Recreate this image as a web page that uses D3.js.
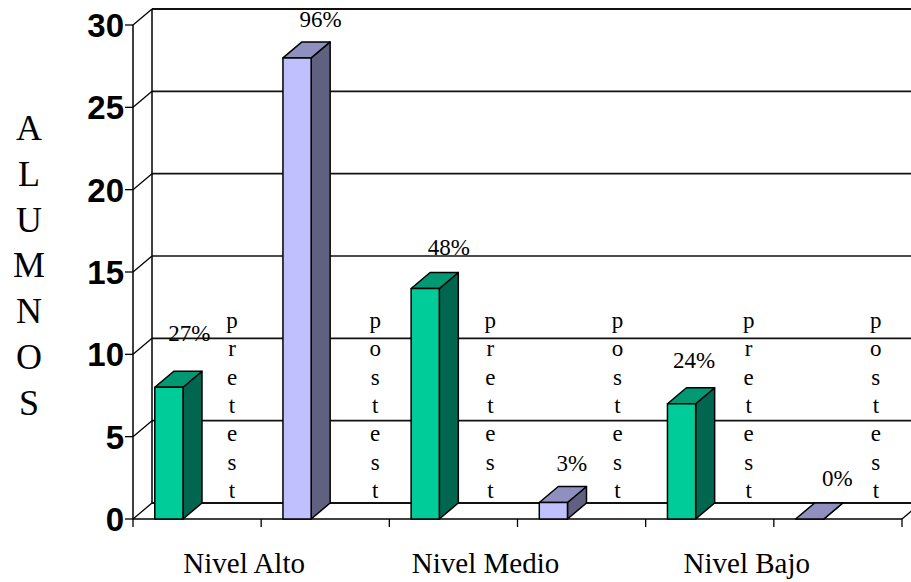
<!DOCTYPE html>
<html>
<head>
<meta charset="utf-8">
<script src="https://cdn.jsdelivr.net/npm/d3@7"></script>
<style>
  html, body { margin: 0; padding: 0; background: #fff; overflow: hidden; }
  svg { display: block; }
  .serif { font-family: "Liberation Serif", "Times New Roman", Times, "DejaVu Serif", serif; }
  .sans { font-family: "Liberation Sans", Arial, Helvetica, sans-serif; }
</style>
</head>
<body>
<svg id="chart" width="911" height="582"></svg>
<script>
// ---- data ----
const levels = ["Nivel Alto", "Nivel Medio", "Nivel Bajo"];
const seriesNames = ["pretest", "postest"];
const pretestValues = [8, 14, 7];
const postestValues = [28, 1, 0];
const pretestLabels = ["27%", "48%", "24%"];
const postestLabels = ["96%", "3%", "0%"];
const yTicks = [0, 5, 10, 15, 20, 25, 30];
const axisTitle = "ALUMNOS";

// ---- layout ----
const plotLeft = 133, plotRight = 902, plotBottom = 519, plotTop = 25;
const dx = 19, dy = -16;             // depth of the 3D box

// label placement tweaks (relative to bar centre / back-top edge)
const valueLabelNudge = [[11, -30], [14, -15], [14, -17], [9, -16], [3, -20], [18, -17]];
const wordOffset = [99, 114, 101, 100, 103, 102];
const levelNudge = [-17, -32, -27];

const faceColors = [
  { front: "#00CC99", side: "#006650", top: "#009973" },
  { front: "#C0C0FF", side: "#606080", top: "#9090C0" }
];

const svg = d3.select("#chart");

const y = d3.scaleLinear().domain([0, 30]).range([plotBottom, plotTop]);
const slots = d3.scaleBand().domain(d3.range(levels.length * 2)).range([plotLeft, plotRight]);
const bw = slots.bandwidth();
const barOffset = bw * 0.17, barW = bw * 0.22;

const bars = levels.flatMap((lv, i) => [
  { slot: 2 * i, series: 0, value: pretestValues[i], label: pretestLabels[i] },
  { slot: 2 * i + 1, series: 1, value: postestValues[i], label: postestLabels[i] }
]);

const line = (g, x1, y1, x2, y2, color = "#000", w = 1.5) =>
  g.append("line").attr("x1", x1).attr("y1", y1).attr("x2", x2).attr("y2", y2)
    .attr("stroke", color).attr("stroke-width", w);

// ---- walls & gridlines ----
const grid = svg.append("g");
yTicks.forEach(v => {
  const yy = y(v);
  line(grid, plotLeft + dx, yy + dy, plotRight + dx + 10, yy + dy, "#111", v === 30 || v === 0 ? 2 : 1.6);
  line(grid, plotLeft, yy, plotLeft + dx, yy + dy, "#000", 1.3);
  line(grid, plotLeft - 8, yy, plotLeft, yy, "#000", 1.3);
});
line(grid, plotLeft + dx, y(30) + dy, plotLeft + dx, y(0) + dy, "#000", 1.5);
line(grid, plotLeft, y(30), plotLeft, y(0), "#000", 1.5);
line(grid, plotLeft, plotBottom, plotRight, plotBottom, "#000", 1.6);
line(grid, plotRight, plotBottom, plotRight + dx, plotBottom + dy, "#000", 1.3);
d3.range(levels.length * 2 + 1).forEach(k => {
  const xx = plotLeft + k * bw;
  line(grid, xx, plotBottom, xx, plotBottom + 8, "#000", 1.3);
});

// ---- y tick labels ----
svg.append("g").attr("class", "sans").selectAll("text").data(yTicks).join("text")
  .attr("x", 124).attr("y", d => y(d) + 12)
  .attr("text-anchor", "end")
  .attr("font-weight", "bold").attr("font-size", 33)
  .text(d => d);

// ---- bars ----
const barG = svg.append("g").attr("stroke", "#000").attr("stroke-width", 1.5).attr("stroke-linejoin", "round");
bars.forEach(b => {
  const x0 = slots(b.slot) + barOffset, x1 = x0 + barW;
  const yt = y(b.value), yb = y(0);
  const c = faceColors[b.series];
  const g = barG.append("g");
  g.append("polygon")
    .attr("points", [[x1, yt], [x1 + dx, yt + dy], [x1 + dx, yb + dy], [x1, yb]].join(" "))
    .attr("fill", c.side);
  g.append("polygon")
    .attr("points", [[x0, yt], [x0 + dx, yt + dy], [x1 + dx, yt + dy], [x1, yt]].join(" "))
    .attr("fill", c.top);
  g.append("rect")
    .attr("x", x0).attr("y", yt).attr("width", barW).attr("height", yb - yt)
    .attr("fill", c.front);
});

// ---- value labels ----
svg.append("g").attr("class", "serif").selectAll("text").data(bars).join("text")
  .attr("x", (d, i) => slots(d.slot) + barOffset + (barW + dx) / 2 + valueLabelNudge[i][0])
  .attr("y", (d, i) => y(d.value) + dy + valueLabelNudge[i][1])
  .attr("text-anchor", "middle")
  .attr("font-size", 23)
  .text(d => d.label);

// ---- vertical series names ----
const words = svg.append("g").attr("class", "serif").attr("font-size", 23).attr("text-anchor", "middle");
bars.forEach((b, i) => {
  const name = seriesNames[b.series];
  const xx = slots(b.slot) + wordOffset[i];
  name.split("").forEach((ch, k) => {
    words.append("text").attr("x", xx).attr("y", 328 + k * 28.3).text(ch);
  });
});

// ---- category labels ----
svg.append("g").attr("class", "serif").selectAll("text").data(levels).join("text")
  .attr("x", (d, i) => slots(2 * i) + bw + levelNudge[i])
  .attr("y", 573)
  .attr("text-anchor", "middle")
  .attr("font-size", 29)
  .text(d => d);

// ---- axis title, stacked letters ----
svg.append("g").attr("class", "serif").selectAll("text").data(axisTitle.split("")).join("text")
  .attr("x", 29).attr("y", (d, i) => 140 + i * 45.8)
  .attr("text-anchor", "middle")
  .attr("font-size", 36)
  .text(d => d);
</script>
</body>
</html>
